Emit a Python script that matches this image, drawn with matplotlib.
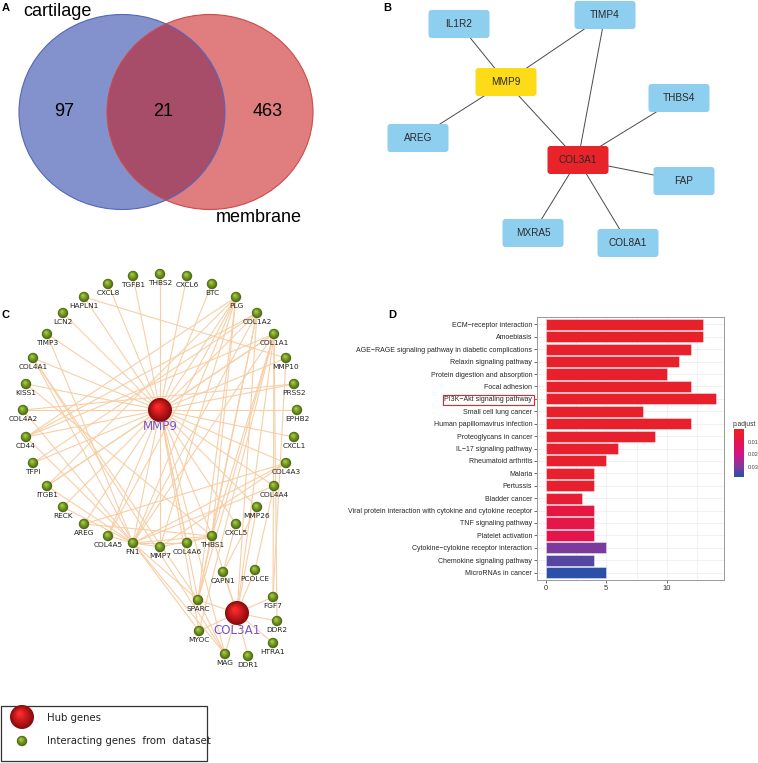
import matplotlib
matplotlib.use("Agg")
import matplotlib.pyplot as plt
import numpy as np
from matplotlib.patches import Circle, Ellipse, FancyBboxPatch, Rectangle
from matplotlib.colors import LinearSegmentedColormap, Normalize, to_rgb
from matplotlib.cm import ScalarMappable

ARIAL = ["Liberation Sans", "DejaVu Sans"]
VERD = ["DejaVu Sans"]

# ---- A: venn
venn_sets = ["cartilage", "membrane"]
venn_counts = [97, 21, 463]  # cartilage only, both, membrane only

# ---- B: hub gene network
b_genes = ["IL1R2", "TIMP4", "MMP9", "THBS4", "AREG", "COL3A1", "FAP", "MXRA5", "COL8A1"]
b_x = [459, 605, 506, 679, 418, 578, 684, 533, 628]
b_y = [24, 15, 82, 98, 138, 160, 181, 233, 243]
b_hub_colors = {"MMP9": "#fddb16", "COL3A1": "#e8232a"}
b_edges = [("IL1R2", "MMP9"), ("TIMP4", "MMP9"), ("AREG", "MMP9"), ("MMP9", "COL3A1"),
           ("TIMP4", "COL3A1"), ("THBS4", "COL3A1"), ("FAP", "COL3A1"),
           ("MXRA5", "COL3A1"), ("COL8A1", "COL3A1")]

# ---- C: GeneMANIA style network
c_hubs = ["MMP9", "COL3A1"]
c_hub_x = [160, 237]
c_hub_y = [410, 613]
c_genes = ["THBS2", "TGFB1", "CXCL6", "CXCL8", "BTC", "HAPLN1", "PLG", "LCN2", "COL1A2",
           "TIMP3", "COL1A1", "COL4A1", "MMP10", "KISS1", "PRSS2", "COL4A2", "EPHB2",
           "CD44", "CXCL1", "TFPI", "COL4A3", "ITGB1", "COL4A4", "RECK", "MMP26",
           "AREG", "COL4A5", "FN1", "MMP7", "COL4A6", "THBS1", "CXCL5",
           "CAPN1", "PCOLCE", "SPARC", "FGF7", "DDR2", "MYOC", "HTRA1", "MAG", "DDR1"]
c_x = [160, 133, 187, 108, 212, 84, 236, 63, 257,
       47, 274, 33, 286, 26, 294, 23, 297,
       26, 294, 33, 286, 47, 274, 63, 257,
       84, 108, 133, 160, 187, 212, 236,
       223, 255, 198, 273, 277, 199, 273, 225, 248]
c_y = [274, 276, 276, 284, 284, 297, 297, 313, 313,
       334, 334, 358, 358, 384, 384, 410, 410,
       437, 437, 463, 463, 486, 486, 507, 507,
       524, 536, 543, 547, 543, 536, 524,
       572, 570, 600, 597, 621, 631, 643, 654, 656]
mmp9_links = ["THBS2", "TGFB1", "CXCL6", "CXCL8", "BTC", "HAPLN1", "PLG", "LCN2", "COL1A2",
              "TIMP3", "COL1A1", "COL4A1", "MMP10", "KISS1", "PRSS2", "COL4A2", "EPHB2",
              "CD44", "CXCL1", "TFPI", "COL4A3", "ITGB1", "COL4A4", "RECK", "MMP26",
              "AREG", "COL4A5", "FN1", "MMP7", "COL4A6", "THBS1", "CXCL5", "SPARC",
              "MAG", "MYOC"]
col3a1_links = ["SPARC", "CAPN1", "PCOLCE", "FGF7", "DDR2", "HTRA1", "DDR1", "MAG",
                "MYOC", "COL1A1", "COL1A2", "MMP26", "THBS1"]
other_edges = [("HAPLN1", "MMP10"), ("CD44", "PLG"), ("CD44", "COL1A2"), ("CD44", "COL1A1"),
               ("ITGB1", "COL1A1"), ("ITGB1", "PLG"), ("TFPI", "COL1A2"),
               ("PLG", "FN1"), ("PLG", "SPARC"), ("PLG", "THBS1"), ("PLG", "COL4A5"),
               ("PLG", "MMP7"), ("COL1A2", "SPARC"), ("COL1A2", "THBS1"), ("COL1A2", "FN1"),
               ("COL1A1", "FGF7"), ("COL1A1", "DDR2"), ("COL1A1", "SPARC"), ("COL1A1", "FN1"),
               ("COL1A1", "THBS1"), ("COL1A1", "MYOC"), ("COL4A3", "FN1"), ("COL4A4", "FN1"),
               ("COL4A3", "AREG"), ("COL4A1", "FN1"), ("COL4A1", "SPARC"), ("COL4A1", "MAG"),
               ("COL4A2", "FN1"), ("COL4A2", "PRSS2"), ("KISS1", "THBS1"), ("TIMP3", "FN1"),
               ("FN1", "MMP7"), ("FN1", "COL4A5"), ("FN1", "COL4A6"), ("FN1", "THBS1"),
               ("FN1", "SPARC"), ("FN1", "MAG"), ("FN1", "MYOC"), ("FN1", "ITGB1"),
               ("FN1", "CD44"), ("FN1", "RECK"), ("THBS1", "SPARC"), ("THBS1", "COL4A6"),
               ("THBS1", "MMP7"), ("THBS1", "AREG"), ("MMP26", "CAPN1"), ("COL4A4", "PCOLCE"),
               ("MMP10", "FGF7"), ("SPARC", "MAG"), ("CXCL5", "CAPN1"), ("COL4A3", "MMP7")]

# ---- D: KEGG enrichment
pathways = ["ECM\u2212receptor interaction", "Amoebiasis",
            "AGE\u2212RAGE signaling pathway in diabetic complications",
            "Relaxin signaling pathway", "Protein digestion and absorption", "Focal adhesion",
            "PI3K\u2212Akt signaling pathway", "Small cell lung cancer",
            "Human papillomavirus infection", "Proteoglycans in cancer",
            "IL\u221217 signaling pathway", "Rheumatoid arthritis", "Malaria", "Pertussis",
            "Bladder cancer", "Viral protein interaction with cytokine and cytokine receptor",
            "TNF signaling pathway", "Platelet activation",
            "Cytokine\u2212cytokine receptor interaction", "Chemokine signaling pathway",
            "MicroRNAs in cancer"]
counts = [13, 13, 12, 11, 10, 12, 14, 8, 12, 9, 6, 5, 4, 4, 3, 4, 4, 4, 5, 4, 5]
padj = [0.0003, 0.0004, 0.0005, 0.0006, 0.0007, 0.0008, 0.0009, 0.0010, 0.0011, 0.0012,
        0.0013, 0.0015, 0.0020, 0.0021, 0.0055, 0.0080, 0.0095, 0.0100, 0.0300, 0.0335,
        0.0370]
p_ticks = [0.01, 0.02, 0.03]


def sphere(ax, x, y, r, dark, light, n=10, z=4):
    d = np.array(to_rgb(dark))
    l = np.array(to_rgb(light))
    for i in range(n):
        t = i / (n - 1)
        ax.add_patch(Circle((x - 0.2 * r * t, y - 0.3 * r * t), r * (1 - 0.85 * t),
                            color=d * (1 - t) + l * t, lw=0, zorder=z))


fig = plt.figure(figsize=(7.58, 7.63), dpi=100)
ax = fig.add_axes([0, 0, 1, 1])
ax.set_xlim(0, 758)
ax.set_ylim(763, 0)
ax.axis("off")

# panel letters
for lab, (lx, ly) in zip("ABCD", [(2, 8), (383, 8), (2, 315), (388, 315)]):
    ax.text(lx, ly, lab, fontsize=8, fontweight="bold", family=ARIAL, va="center")

# ---- A
ax.add_patch(Ellipse((122, 112), 206, 195, facecolor="#1a36a1", alpha=0.54, lw=0))
ax.add_patch(Ellipse((210, 112), 206, 195, facecolor="#c6181c", alpha=0.56, lw=0))
ax.add_patch(Ellipse((122, 112), 206, 195, facecolor="none", edgecolor="#5566bb", lw=0.8))
ax.add_patch(Ellipse((210, 112), 206, 195, facecolor="none", edgecolor="#d04a4a", lw=0.8))
ax.text(23, 12, venn_sets[0], fontsize=13, family=ARIAL, va="center")
ax.text(216, 218, venn_sets[1], fontsize=13, family=ARIAL, va="center")
for cx, v in zip([64, 163, 268], venn_counts):
    ax.text(cx, 112, str(v), fontsize=13, family=ARIAL, ha="center", va="center")

# ---- B
bpos = {g: (x, y) for g, x, y in zip(b_genes, b_x, b_y)}
for a, b in b_edges:
    ax.plot([bpos[a][0], bpos[b][0]], [bpos[a][1], bpos[b][1]], color="#4a4a4a", lw=0.7, zorder=1)
for g in b_genes:
    x, y = bpos[g]
    ax.add_patch(FancyBboxPatch((x - 29, y - 12.5), 58, 25, boxstyle="round,pad=1.5,rounding_size=3",
                                facecolor=b_hub_colors.get(g, "#8ecfef"), edgecolor="none", zorder=2))
    ax.text(x, y, g, fontsize=7.2, family=ARIAL, ha="center", va="center", color="#2a2a2a", zorder=3)

# ---- C
cpos = {g: (x, y) for g, x, y in zip(c_genes, c_x, c_y)}
cpos.update({g: (x, y) for g, x, y in zip(c_hubs, c_hub_x, c_hub_y)})
edges = [("MMP9", g) for g in mmp9_links] + [("COL3A1", g) for g in col3a1_links] + other_edges
for a, b in edges:
    ax.plot([cpos[a][0], cpos[b][0]], [cpos[a][1], cpos[b][1]], color="#f7cfa6", lw=0.8, zorder=1)
for g in c_genes:
    x, y = cpos[g]
    sphere(ax, x, y, 5.2, "#4d6b12", "#a8d040", n=6)
    ax.text(x, y + 6, g, fontsize=5.3, family=VERD, ha="center", va="top", color="#222222", zorder=5)
for g in c_hubs:
    x, y = cpos[g]
    sphere(ax, x, y, 12, "#8a0a0c", "#ff2a2a", n=12)
    ax.text(x, y + 17, g, fontsize=8.6, family=VERD, ha="center", va="center", color="#7b55c2", zorder=5)

# legend
ax.add_patch(Rectangle((1, 706), 206, 55, facecolor="white", edgecolor="#333333", lw=0.9, zorder=1))
sphere(ax, 22, 717, 12, "#8a0a0c", "#ff2a2a", n=12)
sphere(ax, 22, 741, 5.2, "#4d6b12", "#a8d040", n=6)
ax.text(47, 718, "Hub genes", fontsize=7.3, family=VERD, va="center", color="#222222")
ax.text(47, 741, "Interacting genes  from  dataset", fontsize=7.3, family=VERD, va="center",
        color="#222222")

# ---- D
W, H = 758.0, 763.0
cmap = LinearSegmentedColormap.from_list(
    "padj", [(0, "#e8202a"), (0.12, "#e81e30"), (0.27, "#e5154c"), (0.53, "#d2138a"),
             (0.8, "#7a3c9c"), (1, "#2552a8")])
norm = Normalize(vmin=0.0, vmax=0.0377)
axd = fig.add_axes([537 / W, 1 - 580 / H, (724 - 537) / W, (580 - 317) / H])
ypos = np.arange(len(pathways))
axd.set_axisbelow(True)
axd.barh(ypos, counts, height=0.9, color=cmap(norm(padj)), edgecolor=(1, 1, 1, 0.55), lw=0.5)
axd.set_ylim(len(pathways) - 0.4, -0.6)
axd.set_xlim(-0.7, 14.7)
axd.set_xticks([0, 5, 10])
axd.set_xticks([2.5, 7.5, 12.5], minor=True)
axd.set_yticks(ypos)
axd.set_yticklabels(pathways, family=ARIAL, fontsize=5, color="#262626")
axd.tick_params(axis="x", labelsize=5.5, length=2, width=0.5, color="#333333", labelcolor="#333333",
                pad=1.5)
axd.tick_params(axis="x", which="minor", length=0)
axd.tick_params(axis="y", length=2, width=0.5, color="#333333", pad=1.5)
for t in axd.get_xticklabels():
    t.set_family(ARIAL)
axd.grid(True, which="both", color="#ebebeb", lw=0.5)
for s in axd.spines.values():
    s.set_color("#9a9a9a")
    s.set_linewidth(0.7)
lab = axd.get_yticklabels()[pathways.index("PI3K\u2212Akt signaling pathway")]
lab.set_bbox(dict(boxstyle="square,pad=0.25", facecolor="none", edgecolor="#e8232a", lw=0.8))

cax = fig.add_axes([734 / W, 1 - 477 / H, 10 / W, 48 / H])
cb = fig.colorbar(ScalarMappable(norm=norm, cmap=cmap), cax=cax, ticks=p_ticks)
cb.outline.set_visible(False)
cax.invert_yaxis()
cax.tick_params(labelsize=4, length=1.5, width=0.4, color="white", pad=1.5, labelcolor="#444444")
cax.set_yticklabels(["0.01", "0.02", "0.03"], family=ARIAL)
ax.text(733, 424, "p.adjust", fontsize=4.8, family=ARIAL, va="center", color="#333333")

fig.savefig("out.png", dpi=100)
